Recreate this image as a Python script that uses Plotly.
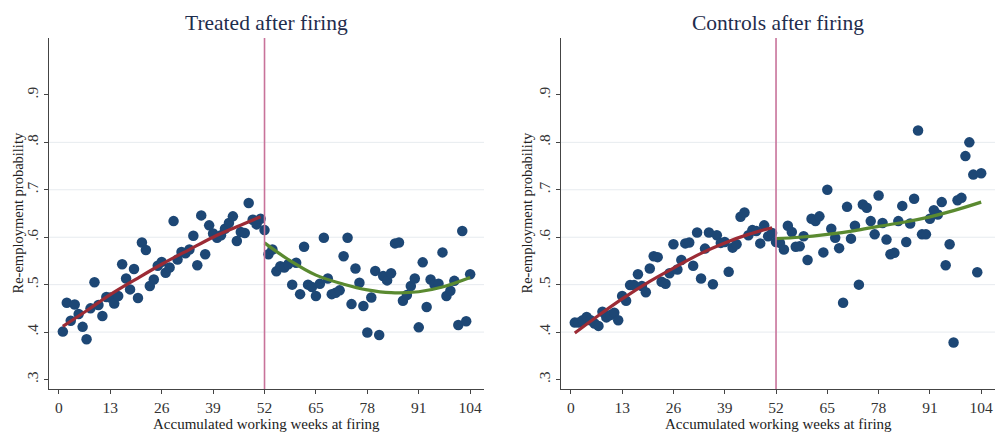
import plotly.graph_objects as go

# ---------------- data ----------------
weeks_before = list(range(1, 52))
weeks_after = list(range(52, 105))

treated_before = [0.401, 0.462, 0.424, 0.458, 0.438, 0.411, 0.385, 0.450, 0.505, 0.457,
                  0.434, 0.474, 0.473, 0.460, 0.476, 0.543, 0.513, 0.490, 0.533, 0.472,
                  0.589, 0.573, 0.497, 0.511, 0.540, 0.548, 0.525, 0.536, 0.634, 0.553,
                  0.569, 0.566, 0.574, 0.603, 0.541, 0.646, 0.564, 0.625, 0.608, 0.599,
                  0.604, 0.618, 0.630, 0.644, 0.592, 0.611, 0.609, 0.672, 0.637, 0.627,
                  0.639]
treated_after = [0.615, 0.564, 0.574, 0.528, 0.539, 0.536, 0.543, 0.500, 0.546, 0.480,
                 0.580, 0.500, 0.495, 0.476, 0.502, 0.599, 0.513, 0.480, 0.483, 0.488,
                 0.560, 0.599, 0.459, 0.534, 0.504, 0.455, 0.399, 0.473, 0.529, 0.394,
                 0.518, 0.509, 0.524, 0.587, 0.589, 0.466, 0.478, 0.497, 0.513, 0.410,
                 0.547, 0.453, 0.511, 0.500, 0.502, 0.568, 0.476, 0.487, 0.508, 0.415,
                 0.613, 0.423, 0.522]

control_before = [0.420, 0.420, 0.425, 0.432, 0.425, 0.418, 0.413, 0.443, 0.431, 0.436,
                  0.441, 0.425, 0.476, 0.466, 0.499, 0.499, 0.522, 0.497, 0.484, 0.534,
                  0.560, 0.558, 0.506, 0.502, 0.524, 0.585, 0.532, 0.552, 0.587, 0.589,
                  0.540, 0.610, 0.513, 0.576, 0.610, 0.501, 0.604, 0.588, 0.590, 0.527,
                  0.578, 0.585, 0.643, 0.652, 0.604, 0.615, 0.613, 0.587, 0.625, 0.602,
                  0.609]
control_after = [0.590, 0.588, 0.574, 0.624, 0.611, 0.580, 0.581, 0.602, 0.552, 0.639,
                 0.634, 0.644, 0.568, 0.700, 0.618, 0.599, 0.577, 0.462, 0.664, 0.597,
                 0.624, 0.500, 0.669, 0.662, 0.634, 0.606, 0.688, 0.630, 0.595, 0.564,
                 0.567, 0.634, 0.666, 0.590, 0.629, 0.681, 0.825, 0.606, 0.606, 0.639,
                 0.657, 0.648, 0.674, 0.541, 0.585, 0.378, 0.678, 0.683, 0.771, 0.800,
                 0.732, 0.526, 0.735]

# fitted lines
fit_before_x = [1, 7, 13, 20, 26, 33, 39, 45, 51]
fit_after_x = [52, 58, 65, 72, 78, 84, 91, 97, 104]
treated_fit_before = [0.412, 0.445, 0.479, 0.514, 0.543, 0.574, 0.600, 0.622, 0.643]
treated_fit_after = [0.588, 0.553, 0.520, 0.501, 0.489, 0.483, 0.485, 0.495, 0.515]
control_fit_before = [0.398, 0.435, 0.470, 0.507, 0.535, 0.566, 0.588, 0.606, 0.620]
control_fit_after = [0.597, 0.600, 0.606, 0.614, 0.623, 0.631, 0.643, 0.656, 0.674]

x_ticks = [0, 13, 26, 39, 52, 65, 78, 91, 104]
y_ticks = [0.3, 0.4, 0.5, 0.6, 0.7, 0.8, 0.9]
y_tick_labels = [".3", ".4", ".5", ".6", ".7", ".8", ".9"]
grid_vals = [0.4, 0.5, 0.6, 0.7, 0.8]
cutoff = 52

titles = ["Treated after firing", "Controls after firing"]
x_title = "Accumulated working weeks at firing"
y_title = "Re-employment probability"

# ---------------- style ----------------
FONT = "Liberation Serif, Times New Roman, serif"
DOT = "#1d4775"
RED = "#9c2b35"
GREEN = "#5a8a30"
VLINE = "#c8739a"
AXIS = "#444444"
GRID = "#e7ebef"

W, H = 995, 432
plot_top, plot_bot = 38, 389
panels = [(49, 484), (561, 995)]

fig = go.Figure()

sets = [
    (treated_before, treated_after, treated_fit_before, treated_fit_after),
    (control_before, control_after, control_fit_before, control_fit_after),
]

for i, (yb, ya, fb, fa) in enumerate(sets):
    xa = "x" if i == 0 else "x2"
    ya_ref = "y" if i == 0 else "y2"
    fig.add_trace(go.Scatter(x=weeks_before + weeks_after, y=yb + ya, mode="markers",
                             marker=dict(color=DOT, size=10.5, line=dict(width=0)),
                             xaxis=xa, yaxis=ya_ref, showlegend=False))
    fig.add_trace(go.Scatter(x=fit_before_x, y=fb, mode="lines",
                             line=dict(color=RED, width=3.2, shape="spline"),
                             xaxis=xa, yaxis=ya_ref, showlegend=False))
    fig.add_trace(go.Scatter(x=fit_after_x, y=fa, mode="lines",
                             line=dict(color=GREEN, width=3.2, shape="spline"),
                             xaxis=xa, yaxis=ya_ref, showlegend=False))

ydom = [(H - plot_bot) / H, (H - plot_top) / H]
axis_common_x = dict(range=[-2.5, 107.5], tickvals=x_ticks, ticks="outside", ticklen=4,
                     tickcolor=AXIS, showline=True, linecolor=AXIS, linewidth=1,
                     showgrid=False, zeroline=False,
                     tickfont=dict(family=FONT, size=15.5, color="#333333"))
axis_common_y = dict(range=[0.28, 1.02], tickvals=y_ticks, ticktext=y_tick_labels,
                     tickangle=-90, ticks="outside", ticklen=4, tickcolor=AXIS,
                     showline=True, linecolor=AXIS, linewidth=1, showgrid=False,
                     zeroline=False, tickfont=dict(family=FONT, size=15.5, color="#333333"))

fig.update_layout(
    width=W, height=H,
    margin=dict(l=0, r=0, t=0, b=0),
    paper_bgcolor="white", plot_bgcolor="white",
    xaxis=dict(domain=[panels[0][0] / W, panels[0][1] / W], anchor="y", **axis_common_x),
    yaxis=dict(domain=ydom, anchor="x", **axis_common_y),
    xaxis2=dict(domain=[panels[1][0] / W, panels[1][1] / W], anchor="y2", **axis_common_x),
    yaxis2=dict(domain=ydom, anchor="x2", **axis_common_y),
)

shapes = []
annotations = []
for i in range(2):
    xr = "x" if i == 0 else "x2"
    yr = "y" if i == 0 else "y2"
    for g in grid_vals:
        shapes.append(dict(type="line", xref=f"{xr} domain", yref=yr, x0=0, x1=1, y0=g, y1=g,
                           line=dict(color=GRID, width=1), layer="below"))
    shapes.append(dict(type="line", xref=xr, yref=f"{yr} domain", x0=cutoff, x1=cutoff,
                       y0=0, y1=1, line=dict(color=VLINE, width=1.6), layer="above"))
    cx = (panels[i][0] + panels[i][1]) / 2 / W
    annotations.append(dict(text=titles[i], x=cx, y=(H - 23) / H, xref="paper", yref="paper",
                            showarrow=False, xanchor="center", yanchor="middle",
                            font=dict(family=FONT, size=21.5, color="#1f2d4d")))
    annotations.append(dict(text=x_title, x=cx, y=(H - 424) / H, xref="paper", yref="paper",
                            showarrow=False, xanchor="center", yanchor="middle",
                            font=dict(family=FONT, size=15, color="#222222")))
    ytx = 18 if i == 0 else 527
    annotations.append(dict(text=y_title, x=ytx / W, y=(H - 213.5) / H, xref="paper",
                            yref="paper", showarrow=False, textangle=-90,
                            xanchor="center", yanchor="middle",
                            font=dict(family=FONT, size=14.5, color="#222222")))

fig.update_layout(shapes=shapes, annotations=annotations)

fig.write_html("out.html",
               config={"displayModeBar": False},
               post_script="document.body.style.margin='0';document.body.style.overflow='hidden';")
